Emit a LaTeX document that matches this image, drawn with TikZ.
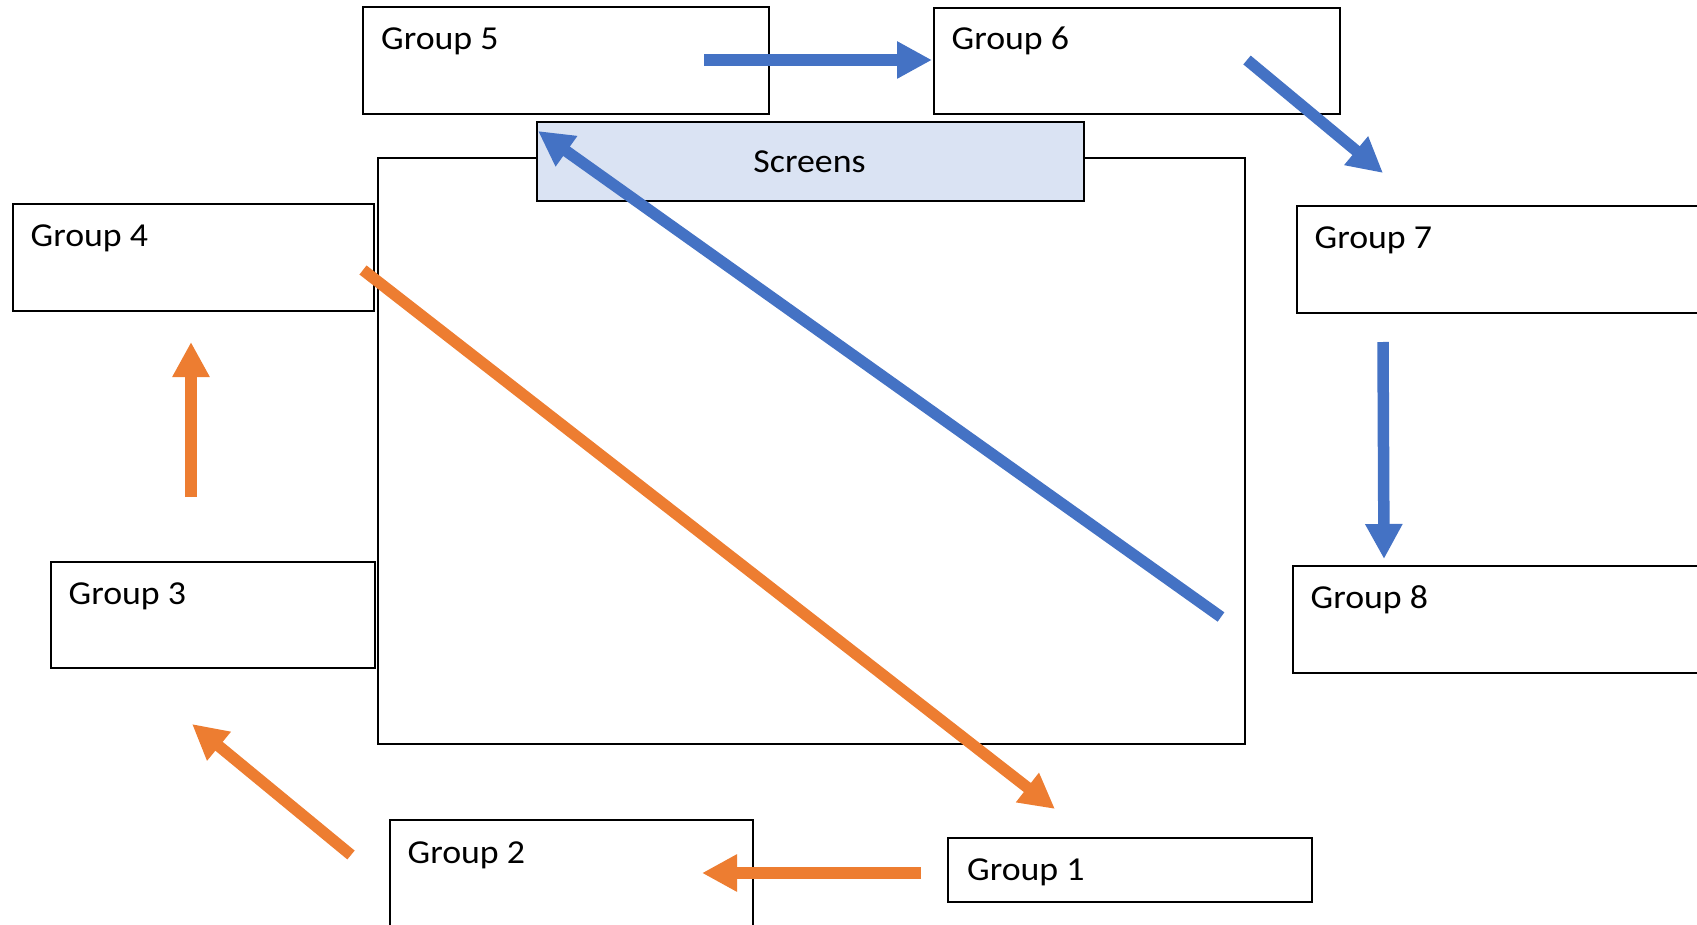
\documentclass[tikz,border=0pt]{standalone}
\usepackage{fontspec}
\newfontfamily\labelfont{Carlito}[FakeStretch=1.07]
\usetikzlibrary{arrows.meta}
\definecolor{flowblue}{HTML}{4472C4}
\definecolor{floworange}{HTML}{ED7D31}
\definecolor{screenfill}{HTML}{DAE3F3}

\begin{document}
\begin{tikzpicture}[x=1pt,y=-1pt,
  groupbox/.style={draw=black, line width=2pt, anchor=north west, inner sep=0pt, fill=white},
  roombox/.style={draw=black, line width=2.4pt, anchor=north west, inner sep=0pt},
  screenbox/.style={draw=black, line width=2.4pt, fill=screenfill, anchor=north west, inner sep=0pt},
  grouplabel/.style={anchor=base west, inner sep=0pt, font=\labelfont\fontsize{33.5}{40}\selectfont},
  flow/.style={line width=11.5pt, -{Triangle[width=35pt,length=35pt]}},
  blueflow/.style={flow, draw=flowblue, fill=flowblue},
  orangeflow/.style={flow, draw=floworange, fill=floworange},
]
\useasboundingbox (0,0) rectangle (1697,925);
\clip (0,0) rectangle (1697,925);

% room and screen wall
\node[roombox, minimum width=867pt, minimum height=586pt] (room) at (377,157) {};
\node[screenbox, minimum width=547pt, minimum height=79pt] (screens) at (536,121) {};
\node[grouplabel, anchor=base] (screenstext) at (809.5,173) {Screens};

% group tables
\node[groupbox, minimum width=406pt, minimum height=107pt] (g5) at (362,6) {};
\node[groupbox, minimum width=406pt, minimum height=106pt] (g6) at (933,7) {};
\node[groupbox, minimum width=361pt, minimum height=107pt] (g4) at (12,203) {};
\node[groupbox, minimum width=500pt, minimum height=107pt] (g7) at (1296,205) {};
\node[groupbox, minimum width=500pt, minimum height=107pt] (g8) at (1292,565) {};
\node[groupbox, minimum width=324pt, minimum height=106pt] (g3) at (50,561) {};
\node[groupbox, minimum width=363pt, minimum height=200pt] (g2) at (389,819) {};
\node[groupbox, minimum width=364pt, minimum height=64pt] (g1) at (947,837) {};

\node[grouplabel] (t5) at ([xshift=19pt,yshift=-44pt]g5.north west) {Group 5};
\node[grouplabel] (t6) at ([xshift=18.5pt,yshift=-43pt]g6.north west) {Group 6};
\node[grouplabel] (t4) at ([xshift=18.5pt,yshift=-44pt]g4.north west) {Group 4};
\node[grouplabel] (t7) at ([xshift=18.5pt,yshift=-44pt]g7.north west) {Group 7};
\node[grouplabel] (t8) at ([xshift=18.5pt,yshift=-43pt]g8.north west) {Group 8};
\node[grouplabel] (t3) at ([xshift=18.5pt,yshift=-43pt]g3.north west) {Group 3};
\node[grouplabel] (t2) at ([xshift=18.5pt,yshift=-44pt]g2.north west) {Group 2};
\node[grouplabel] (t1) at ([xshift=20pt,yshift=-43pt]g1.north west) {Group 1};

% arrow end points
\coordinate (a56s) at (704,60);
\coordinate (a56e) at (932,60);
\coordinate (a67s) at (1247,60);
\coordinate (a67e) at (1383,173);
\coordinate (a78s) at (1383,342);
\coordinate (a78e) at (1384,559);
\coordinate (ascs) at (1221,617);
\coordinate (asce) at (538,131);
\coordinate (a12s) at (921,873);
\coordinate (a12e) at (702,873);
\coordinate (a23s) at (351,855);
\coordinate (a23e) at (192,724);
\coordinate (a34s) at (191,497);
\coordinate (a34e) at (191,342);
\coordinate (a41s) at (363,270);
\coordinate (a41e) at (1055,809);

% blue circuit
\draw[blueflow] (a56s) -- (a56e);
\draw[blueflow] (a67s) -- (a67e);
\draw[blueflow] (a78s) -- (a78e);
\draw[blueflow] (ascs) -- (asce);

% orange circuit
\draw[orangeflow] (a12s) -- (a12e);
\draw[orangeflow] (a23s) -- (a23e);
\draw[orangeflow] (a34s) -- (a34e);
\draw[orangeflow] (a41s) -- (a41e);
\end{tikzpicture}
\end{document}
